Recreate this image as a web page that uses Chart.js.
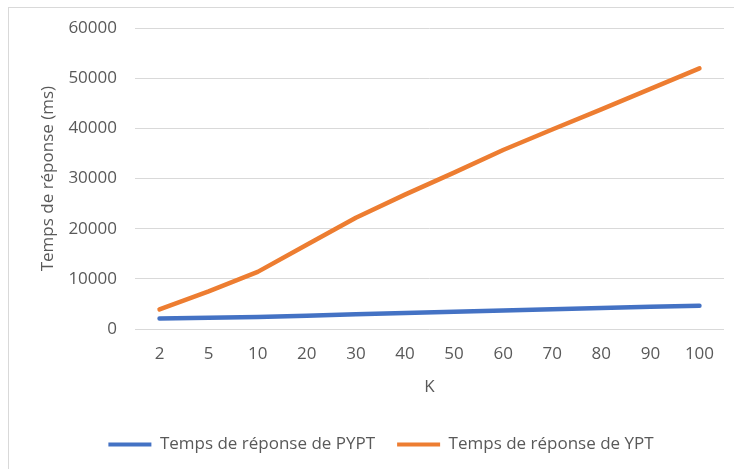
<!DOCTYPE html>
<html>
<head>
<meta charset="utf-8">
<script src="https://cdn.jsdelivr.net/npm/chart.js@4"></script>
<style>
  html, body { margin: 0; padding: 0; background: #fff; }
  #wrap { position: absolute; left: 0; top: 0; width: 734px; height: 469px; }
  #frame { position: absolute; left: 8px; top: 7px; width: 740px; height: 480px;
           border-left: 1px solid #d9d9d9; border-top: 1px solid #d9d9d9; }
  canvas { position: absolute; left: 0; top: 0; }
</style>
</head>
<body>
<div id="wrap">
  <div id="frame"></div>
  <canvas id="chart" width="734" height="469"></canvas>
</div>
<script>
const categories = ["2", "5", "10", "20", "30", "40", "50", "60", "70", "80", "90", "100"];
const pyptValues = [2100, 2250, 2400, 2650, 2950, 3200, 3450, 3700, 3950, 4200, 4450, 4650];
const yptValues = [3900, 7500, 11400, 16800, 22200, 26800, 31200, 35700, 39800, 43800, 47900, 52000];
const yTicks = [0, 10000, 20000, 30000, 40000, 50000, 60000];

const textColor = "#595959";
const font = { family: "'Open Sans', sans-serif", size: 17 };

const ctx = document.getElementById("chart").getContext("2d");
const chart = new Chart(ctx, {
  type: "line",
  data: {
    labels: categories,
    datasets: [
      {
        label: "Temps de réponse de PYPT",
        data: pyptValues,
        borderColor: "#4472C4",
        backgroundColor: "#4472C4",
        borderWidth: 4.5,
        pointRadius: 0,
        borderCapStyle: "round",
        borderJoinStyle: "round",
        tension: 0
      },
      {
        label: "Temps de réponse de YPT",
        data: yptValues,
        borderColor: "#ED7D31",
        backgroundColor: "#ED7D31",
        borderWidth: 4.5,
        pointRadius: 0,
        borderCapStyle: "round",
        borderJoinStyle: "round",
        tension: 0
      }
    ]
  },
  options: {
    responsive: false,
    animation: false,
    layout: { padding: { left: 38, right: 10, top: 26, bottom: 6 } },
    plugins: {
      tooltip: { enabled: false },
      legend: {
        position: "bottom",
        labels: {
          color: textColor,
          font: font,
          boxWidth: 43,
          boxHeight: 4,
          padding: 22,
          generateLabels(c) {
            return c.data.datasets.map((ds, i) => ({
              text: ds.label,
              fillStyle: ds.borderColor,
              strokeStyle: ds.borderColor,
              lineWidth: 0,
              fontColor: textColor,
              datasetIndex: i
            }));
          }
        }
      }
    },
    scales: {
      x: {
        offset: true,
        grid: { display: false, drawTicks: false },
        border: { display: false },
        ticks: { color: textColor, font: font, padding: 15, maxRotation: 0 },
        title: { display: true, text: "K", color: textColor, font: font, padding: { top: 8, bottom: 17 } },
        afterFit(scale) { scale.height = 85; }
      },
      y: {
        min: 0,
        max: 60000,
        afterBuildTicks(scale) { scale.ticks = yTicks.map(v => ({ value: v })); },
        grid: { color: "#d9d9d9", lineWidth: 1, drawTicks: false },
        border: { display: false },
        ticks: { color: textColor, font: font, padding: 18, callback: v => String(v) },
        title: { display: true, text: "Temps de réponse (ms)", color: textColor, font: font, padding: { top: 0, bottom: 0 } },
        afterFit(scale) { scale.width = 97; }
      }
    }
  }
});
</script>
</body>
</html>
